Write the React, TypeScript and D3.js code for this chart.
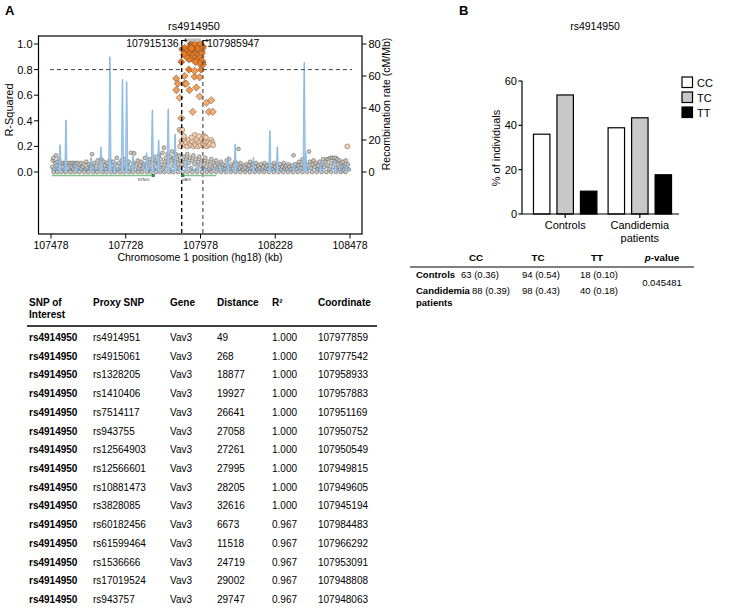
import React from 'react';
import * as d3 from 'd3';

// ---------- Panel A data ----------
const regionKb: [number, number] = [107478, 108478];
const xTicksKb = [107478, 107728, 107978, 108228, 108478];
const r2Ticks = [0, 0.2, 0.4, 0.6, 0.8, 1.0];
const recombTicks = [0, 20, 40, 60, 80];
const boundaryLeft = 107915.136;
const boundaryRight = 107985.947;
const snpName = 'rs4914950';

// recombination rate (kb, cM/Mb): narrow peaks
const recombSpikes: [number, number][] = [
  [107508, 17], [107528, 32.5], [107562, 6], [107612, 9], [107645, 15.6], [107675, 72], [107690, 7.5],
  [107717, 58], [107731, 56.5], [107752, 10], [107798, 12], [107817, 38.7], [107838, 20], [107870, 39.4],
  [107893, 23.7], [107932, 8], [107968, 6], [108045, 4.5], [108070, 9.6], [108094, 17.5], [108155, 9],
  [108210, 25.8], [108235, 15.8], [108290, 6], [108325, 68.5], [108330, 12], [108380, 6], [108430, 7], [108465, 5],
];
// low background recombination (kb, cM/Mb)
const recombBase: [number, number][] = [
  [107478, 1], [107490, 3], [107496, 0.5], [107502, 6], [107506, 1], [107520, 2], [107534, 0.5], [107548, 4],
  [107556, 1], [107570, 2], [107583, 0.5], [107594, 3], [107605, 1], [107618, 5], [107626, 0.5], [107638, 2],
  [107652, 1], [107664, 4], [107672, 1], [107686, 2], [107698, 0.5], [107712, 3], [107724, 1], [107738, 6],
  [107748, 1], [107762, 3], [107775, 0.5], [107788, 5], [107800, 1], [107812, 2], [107826, 0.5], [107846, 4],
  [107858, 1], [107878, 3], [107888, 1], [107900, 2], [107920, 1], [107940, 3], [107960, 1], [107980, 2],
  [108000, 0.5], [108012, 3], [108028, 1], [108040, 5], [108052, 1], [108062, 2], [108082, 0.5], [108100, 3],
  [108112, 1], [108128, 4], [108140, 1], [108165, 2], [108176, 0.5], [108190, 3], [108200, 1], [108222, 2],
  [108248, 0.5], [108262, 3], [108276, 1], [108300, 4], [108312, 1], [108340, 2], [108360, 0.5], [108372, 3],
  [108390, 1], [108405, 4], [108418, 1], [108432, 3], [108445, 0.5], [108458, 5], [108466, 1], [108478, 2],
];

// SNPs with low LD (kb, r2)
const lowLdSnps: [number, number][] = [
  [107482, 0.04], [107484, 0.09], [107486, 0.11], [107489, 0.02], [107492, 0.07], [107495, 0.13], [107497, 0.05],
  [107500, 0.08], [107503, 0.03], [107505, 0.1], [107508, 0.06], [107511, 0.01], [107514, 0.07], [107517, 0.04],
  [107520, 0.07], [107523, 0.02], [107526, 0.07], [107529, 0.05], [107532, 0.07], [107535, 0.03], [107538, 0.07],
  [107541, 0.01], [107544, 0.07], [107547, 0.04], [107550, 0.07], [107553, 0.02], [107556, 0.07], [107559, 0.05],
  [107562, 0.07], [107565, 0.01], [107568, 0.07], [107571, 0.03], [107574, 0.06], [107577, 0.02], [107580, 0.07],
  [107584, 0.04], [107588, 0.06], [107592, 0.02], [107596, 0.08], [107600, 0.03], [107604, 0.06], [107608, 0.02],
  [107612, 0.05], [107615, 0.14], [107618, 0.03], [107622, 0.07], [107626, 0.01], [107630, 0.05], [107634, 0.09],
  [107638, 0.02], [107642, 0.06], [107646, 0.1], [107650, 0.03], [107654, 0.08], [107658, 0.05], [107662, 0.02],
  [107666, 0.07], [107670, 0.04], [107674, 0.09], [107678, 0.01], [107682, 0.05], [107686, 0.08], [107690, 0.03],
  [107694, 0.06], [107698, 0.11], [107702, 0.02], [107706, 0.07], [107710, 0.04], [107714, 0.09], [107718, 0.02],
  [107722, 0.06], [107726, 0.1], [107730, 0.03], [107734, 0.05], [107738, 0.08], [107742, 0.01], [107746, 0.15],
  [107750, 0.04], [107754, 0.07], [107756, 0.146], [107760, 0.02], [107764, 0.06], [107768, 0.09], [107772, 0.03],
  [107776, 0.05], [107780, 0.08], [107784, 0.02], [107788, 0.06], [107792, 0.11], [107796, 0.04], [107800, 0.07],
  [107804, 0.02], [107808, 0.1], [107812, 0.05], [107816, 0.08], [107820, 0.03], [107823, 0.12], [107826, 0.06],
  [107830, 0.09], [107833, 0.02], [107836, 0.07], [107839, 0.13], [107842, 0.04], [107845, 0.1], [107848, 0.06],
  [107851, 0.15], [107854, 0.03], [107856, 0.19], [107859, 0.08], [107862, 0.11], [107865, 0.05], [107868, 0.14],
  [107871, 0.07], [107874, 0.02], [107877, 0.12], [107880, 0.09], [107883, 0.16], [107886, 0.05], [107889, 0.11],
  [107892, 0.08], [107895, 0.14], [107898, 0.03], [107901, 0.1], [107904, 0.06], [107907, 0.13], [107910, 0.09],
  [107913, 0.04], [107918, 0.08], [107922, 0.12], [107926, 0.05], [107930, 0.1], [107934, 0.14], [107938, 0.07],
  [107942, 0.11], [107946, 0.03], [107950, 0.09], [107954, 0.13], [107958, 0.06], [107962, 0.1], [107966, 0.02],
  [107970, 0.08], [107974, 0.12], [107978, 0.05], [107982, 0.09], [107986, 0.03], [107990, 0.07], [107994, 0.11],
  [107998, 0.04], [108002, 0.08], [108006, 0.02], [108010, 0.06], [108014, 0.1], [108018, 0.03], [108022, 0.07],
  [108026, 0.05], [108030, 0.09], [108034, 0.02], [108038, 0.06], [108042, 0.04], [108046, 0.08], [108050, 0.03],
  [108054, 0.06], [108058, 0.02], [108062, 0.05], [108066, 0.09], [108070, 0.04], [108074, 0.1], [108078, 0.02],
  [108082, 0.06], [108086, 0.03], [108090, 0.05], [108094, 0.08], [108098, 0.02], [108102, 0.06], [108105, 0.18],
  [108108, 0.03], [108112, 0.07], [108116, 0.04], [108120, 0.02], [108124, 0.05], [108128, 0.03], [108132, 0.06],
  [108136, 0.02], [108140, 0.05], [108144, 0.08], [108148, 0.03], [108152, 0.06], [108156, 0.02], [108160, 0.04],
  [108164, 0.07], [108168, 0.02], [108172, 0.05], [108176, 0.03], [108180, 0.06], [108184, 0.02], [108188, 0.04],
  [108192, 0.07], [108196, 0.03], [108200, 0.05], [108204, 0.02], [108208, 0.06], [108212, 0.03], [108216, 0.05],
  [108220, 0.02], [108224, 0.07], [108228, 0.04], [108232, 0.02], [108236, 0.05], [108240, 0.03], [108244, 0.06],
  [108248, 0.02], [108252, 0.04], [108256, 0.07], [108260, 0.03], [108264, 0.05], [108268, 0.02], [108272, 0.06],
  [108276, 0.04], [108280, 0.02], [108284, 0.05], [108289, 0.13], [108292, 0.03], [108296, 0.06], [108300, 0.02],
  [108304, 0.05], [108308, 0.08], [108312, 0.03], [108316, 0.06], [108320, 0.1], [108324, 0.04], [108328, 0.07],
  [108332, 0.02], [108336, 0.05], [108341, 0.16], [108344, 0.08], [108348, 0.03], [108352, 0.06], [108356, 0.09],
  [108360, 0.04], [108364, 0.07], [108368, 0.02], [108372, 0.05], [108376, 0.08], [108380, 0.03], [108384, 0.06],
  [108388, 0.1], [108392, 0.04], [108396, 0.08], [108400, 0.1], [108403, 0.05], [108406, 0.1], [108409, 0.02],
  [108412, 0.11], [108415, 0.07], [108418, 0.11], [108421, 0.04], [108424, 0.11], [108427, 0.08], [108430, 0.11],
  [108433, 0.03], [108436, 0.1], [108439, 0.06], [108442, 0.09], [108445, 0.02], [108448, 0.07], [108451, 0.04],
  [108454, 0.08], [108457, 0.01], [108460, 0.05], [108464, 0.09], [108467, 0.03], [108471, 0.06], [108474, 0.02],
  [107487, 0], [107499, 0], [107513, 0], [107527, 0], [107543, 0], [107557, 0], [107573, 0], [107589, 0],
  [107603, 0], [107619, 0], [107633, 0], [107649, 0], [107663, 0], [107679, 0], [107693, 0], [107709, 0],
  [107723, 0], [107739, 0], [107753, 0], [107769, 0], [107783, 0], [107799, 0], [107813, 0], [107829, 0],
  [107843, 0], [107857, 0], [107873, 0], [107887, 0], [107903, 0], [107919, 0], [107935, 0], [107951, 0],
  [107967, 0], [107983, 0], [107999, 0], [108015, 0], [108031, 0], [108047, 0], [108063, 0], [108079, 0],
  [108095, 0], [108111, 0], [108127, 0], [108143, 0], [108159, 0], [108175, 0], [108191, 0], [108207, 0],
  [108223, 0], [108239, 0], [108255, 0], [108271, 0], [108287, 0], [108303, 0], [108319, 0], [108335, 0],
  [108351, 0], [108367, 0], [108383, 0], [108399, 0], [108415, 0], [108431, 0], [108447, 0], [108463, 0],
];

// SNPs with 0.2 <= r2 < 0.4 (kb, r2)
const weakLdSnps: [number, number][] = [
  [107908, 0.33], [107913, 0.32], [107917, 0.33], [107959, 0.29], [107990, 0.28], [108014, 0.25], [108018, 0.23],
  [107914, 0.24], [107918, 0.22], [107922, 0.26], [107926, 0.21], [107930, 0.23], [107934, 0.2], [107938, 0.25],
  [107942, 0.22], [107946, 0.21], [107950, 0.24], [107954, 0.2], [107958, 0.22], [107962, 0.21], [107966, 0.25],
  [107970, 0.2], [107974, 0.23], [107978, 0.21], [107982, 0.26], [107986, 0.22], [107990, 0.21], [107994, 0.24],
  [107998, 0.2], [108002, 0.23], [108006, 0.21], [108010, 0.22], [108020, 0.21], [107910, 0.2], [107923, 0.28],
  [107948, 0.27], [107972, 0.28], [107996, 0.27], [108469, 0.2],
];

// SNPs with r2 >= 0.4 (kb, r2)
const strongLdSnps: [number, number][] = [
  [107897, 0.73], [107924.7, 0.75], [107958, 0.745], [107975, 0.74], [107902, 0.69], [107925, 0.69], [107930, 0.69],
  [107897, 0.64], [107941, 0.64], [107964, 0.66], [107908, 0.58], [107975, 0.59], [107997, 0.54], [108014, 0.56],
  [108006, 0.47], [108019, 0.47], [107952, 0.47], [107914, 0.42],
  [107913.7, 0.86], [107939, 0.8], [107958, 0.79], [107980, 0.8],
  [107917, 0.96], [107921, 0.95], [107925, 0.97], [107929, 0.93], [107933, 0.96], [107936, 0.91], [107939, 0.95],
  [107942, 0.93], [107944, 0.97], [107947, 0.89], [107952, 0.94], [107955, 0.92], [107956, 0.97], [107960, 0.95],
  [107962, 0.9], [107964, 0.93], [107967, 0.97], [107969, 0.88], [107971, 0.95], [107973, 0.92], [107975, 0.97],
  [107979, 0.9], [107981, 0.95], [107983, 0.93], [107985, 0.86], [107986, 0.98], [107986, 0.84], [107982, 0.87],
  [107974, 0.85], [107961, 0.86], [107940, 0.88], [107931, 0.9], [107923, 0.92], [107958, 0.99], [107970, 0.99],
  [107980, 0.99],
  [107945.194, 1], [107949.605, 1], [107949.815, 1], [107950.549, 1], [107950.752, 1], [107951.169, 1],
  [107957.883, 1], [107958.933, 1], [107977.542, 1], [107977.859, 1], [107984.483, 0.967], [107966.292, 0.967],
  [107953.091, 0.967], [107948.808, 0.967], [107948.063, 0.967],
];

const geneNames = ['NTNG1', 'VAV3'];
const geneStarts = [107481, 107914];
const geneEnds = [107825, 108031];

// ---------- Table A data ----------
const tableHeaders = ['SNP of|Interest', 'Proxy SNP', 'Gene', 'Distance', 'R²', 'Coordinate'];
const proxySnps = ['rs4914951', 'rs4915061', 'rs1328205', 'rs1410406', 'rs7514117', 'rs943755', 'rs12564903',
  'rs12566601', 'rs10881473', 'rs3828085', 'rs60182456', 'rs61599464', 'rs1536666', 'rs17019524', 'rs943757'];
const proxyGene = 'Vav3';
const distances = [49, 268, 18877, 19927, 26641, 27058, 27261, 27995, 28205, 32616, 6673, 11518, 24719, 29002, 29747];
const proxyR2 = ['1.000', '1.000', '1.000', '1.000', '1.000', '1.000', '1.000', '1.000', '1.000', '1.000',
  '0.967', '0.967', '0.967', '0.967', '0.967'];
const coordinates = [107977859, 107977542, 107958933, 107957883, 107951169, 107950752, 107950549, 107949815,
  107949605, 107945194, 107984483, 107966292, 107953091, 107948808, 107948063];

// ---------- Panel B data ----------
const genotypes = ['CC', 'TC', 'TT'];
const groupKeys = ['Controls', 'Candidemia patients'];
const controlsPct = [36.0, 53.7, 10.3];
const patientsPct = [38.9, 43.4, 17.7];
const pctTicks = [0, 20, 40, 60];
const controlsCounts = ['63 (0.36)', '94 (0.54)', '18 (0.10)'];
const patientsCounts = ['88 (0.39)', '98 (0.43)', '40 (0.18)'];
const pValue = '0.045481';

const FONT = "'Liberation Sans', Arial, Helvetica, sans-serif";

export default function App() {
  // ----- Panel A scales -----
  const x = d3.scaleLinear().domain(regionKb).range([51, 350]);
  const yR2 = d3.scaleLinear().domain([0, 1]).range([172, 44]);
  const yRec = d3.scaleLinear().domain([0, 80]).range([172, 44]);
  const ldColor = d3.scaleThreshold<number, string>()
    .domain([0.2, 0.4, 0.6, 0.8])
    .range(['#cfc9c3', '#f8cfae', '#f6ae76', '#f39b50', '#ee7d22']);
  const frame = { l: 38.5, t: 36, r: 362, b: 234 };
  const baseLine = d3.line<[number, number]>().x(d => x(d[0])).y(d => yRec(d[1]));
  const xl = x(boundaryLeft);
  const xr = x(boundaryRight);
  const diamond = (cx: number, cy: number, s: number) =>
    `M${cx},${cy - s}L${cx + s},${cy}L${cx},${cy + s}L${cx - s},${cy}Z`;

  // ----- Panel B scales -----
  const bPct = [controlsPct, patientsPct];
  const x0 = d3.scaleBand().domain(groupKeys).range([526, 679]).paddingInner(0.15).paddingOuter(0.1);
  const x1 = d3.scaleBand().domain(genotypes).range([0, x0.bandwidth()]).paddingInner(0.3).paddingOuter(0);
  const yB = d3.scaleLinear().domain([0, 60]).range([214, 81]);
  const genoFill = d3.scaleOrdinal<string, string>().domain(genotypes).range(['#ffffff', '#c8c8c8', '#000000']);

  // table A layout
  const colX = [29, 93, 170, 217, 272, 318];
  const rowY = d3.scaleLinear().domain([0, proxySnps.length - 1]).range([341, 603]);

  // table B layout
  const ctrlValX = [461, 522, 580];
  const patValX = [472, 522, 580];
  const bHeadX = [476, 538, 597, 662];

  return (
    <svg width={754} height={610} style={{ position: 'absolute', left: 0, top: 0, background: '#fff' }}
      fontFamily={FONT}>
      <rect width={754} height={610} fill="#fff" />
      {/* Panel labels */}
      <text x={5} y={15} fontSize={13} fontWeight="bold">A</text>
      <text x={459} y={15} fontSize={13} fontWeight="bold">B</text>

      {/* ===== Panel A plot ===== */}
      <text x={194} y={30} fontSize={11} textAnchor="middle">{snpName}</text>

      {/* low LD points */}
      {lowLdSnps.map((d, i) => (
        <circle key={'g' + i} cx={x(d[0])} cy={yR2(d[1])} r={1.9} fill={ldColor(d[1])} stroke="#5a5450" strokeWidth={0.55} />
      ))}

      {/* recombination rate */}
      <path d={baseLine(recombBase) || ''} fill="none" stroke="#6fa8dc" strokeWidth={0.9} />
      {recombSpikes.map((d, i) => {
        const cx = x(d[0]);
        const y0 = yRec(0);
        const y1 = yRec(d[1]);
        return (
          <path key={'s' + i} d={`M${cx - 1.2},${y0}L${cx - 0.3},${y1}L${cx + 0.3},${y1}L${cx + 1.2},${y0}`}
            fill="#a9cdea" stroke="#74acdc" strokeWidth={0.7} />
        );
      })}

      {/* weak LD */}
      {weakLdSnps.map((d, i) => (
        <circle key={'w' + i} cx={x(d[0])} cy={yR2(d[1])} r={2.5} fill={ldColor(d[1])} stroke="#7d6655" strokeWidth={0.55} />
      ))}
      {/* strong LD */}
      {strongLdSnps.map((d, i) => (
        <path key={'o' + i} d={diamond(x(d[0]), yR2(d[1]), 3.6)} fill={ldColor(d[1])} stroke="#6b4a30" strokeWidth={0.55} />
      ))}

      {/* r2 = 0.8 threshold */}
      <line x1={50} x2={xl} y1={yR2(0.8)} y2={yR2(0.8)} stroke="#444" strokeWidth={1} strokeDasharray="4,3" />
      <line x1={xr} x2={352} y1={yR2(0.8)} y2={yR2(0.8)} stroke="#444" strokeWidth={1} strokeDasharray="4,3" />

      {/* boundaries */}
      <line x1={xl} x2={xl} y1={40} y2={frame.b} stroke="#000" strokeWidth={1.3} strokeDasharray="4,3" />
      <line x1={xr} x2={xr} y1={40} y2={frame.b} stroke="#555" strokeWidth={1.2} strokeDasharray="4,3" />
      <rect x={xl + 2} y={38.5} width={xr - xl - 4} height={3} fill="#bdbdbd" />
      <path d={`M${xl},46V40.5H${xl + 3.5}`} fill="none" stroke="#000" strokeWidth={1} />
      <path d={`M${xl + 3.5},38.5L${xl + 5.5},40.5L${xl + 3.5},42.5Z`} fill="#000" />
      <path d={`M${xr},46V40.5H${xr + 3.5}`} fill="none" stroke="#000" strokeWidth={1} />
      <path d={`M${xr + 3.5},38.5L${xr + 5.5},40.5L${xr + 3.5},42.5Z`} fill="#000" />
      <text x={xl - 3} y={47} fontSize={10.5} textAnchor="end">{Math.round(boundaryLeft * 1000)}</text>
      <text x={xr + 4} y={47} fontSize={10.5}>{Math.round(boundaryRight * 1000)}</text>

      {/* genes */}
      {geneNames.map((g, i) => (
        <g key={g}>
          <line x1={x(geneStarts[i])} x2={x(geneEnds[i])} y1={175.5} y2={175.5} stroke="#7fbf8a" strokeWidth={1.3} />
          <rect x={i === 0 ? x(geneEnds[i]) - 3 : x(geneStarts[i])} y={174} width={3} height={3} fill="#2e8b3e" />
          <text x={i === 0 ? x(geneEnds[i]) - 5 : x(geneStarts[i]) + 1} y={180.5} fontSize={3.5}
            textAnchor={i === 0 ? 'end' : 'start'} fill="#333">{g}</text>
        </g>
      ))}

      {/* frame */}
      <rect x={frame.l} y={frame.t} width={frame.r - frame.l} height={frame.b - frame.t} fill="none" stroke="#000" strokeWidth={1.2} />

      {/* left axis */}
      {r2Ticks.map(t => (
        <g key={'lt' + t}>
          <line x1={frame.l - 4.5} x2={frame.l} y1={yR2(t)} y2={yR2(t)} stroke="#000" strokeWidth={1} />
          <text x={frame.l - 6} y={yR2(t) + 4} fontSize={11} textAnchor="end">{d3.format('.1f')(t)}</text>
        </g>
      ))}
      <text transform={`translate(13,110) rotate(-90)`} fontSize={11} textAnchor="middle">R-Squared</text>

      {/* right axis */}
      {recombTicks.map(t => (
        <g key={'rt' + t}>
          <line x1={frame.r} x2={frame.r + 4.5} y1={yRec(t)} y2={yRec(t)} stroke="#000" strokeWidth={1} />
          <text x={frame.r + 6.5} y={yRec(t) + 4} fontSize={11}>{t}</text>
        </g>
      ))}
      <text transform={`translate(390,104) rotate(-90)`} fontSize={10.5} textAnchor="middle">Recombination rate (cM/Mb)</text>

      {/* bottom axis */}
      {xTicksKb.map(t => (
        <g key={'bt' + t}>
          <line x1={x(t)} x2={x(t)} y1={frame.b} y2={frame.b + 4.5} stroke="#000" strokeWidth={1} />
          <text x={x(t)} y={frame.b + 15} fontSize={10.5} textAnchor="middle">{t}</text>
        </g>
      ))}
      <text x={200} y={frame.b + 27} fontSize={10.5} textAnchor="middle">Chromosome 1 position (hg18) (kb)</text>

      {/* ===== Table A ===== */}
      {tableHeaders.map((h, i) => (
        <text key={'h' + i} x={colX[i]} y={306} fontSize={10} fontWeight="bold">
          {h.split('|').map((part, j) => (
            <tspan key={j} x={colX[i]} dy={j === 0 ? 0 : 12}>{part}</tspan>
          ))}
        </text>
      ))}
      <line x1={27} x2={377} y1={326} y2={326} stroke="#000" strokeWidth={1.6} />
      {proxySnps.map((p, i) => (
        <g key={'r' + i} fontSize={10}>
          <text x={colX[0]} y={rowY(i)} fontWeight="bold">{snpName}</text>
          <text x={colX[1]} y={rowY(i)}>{p}</text>
          <text x={colX[2]} y={rowY(i)}>{proxyGene}</text>
          <text x={colX[3]} y={rowY(i)}>{distances[i]}</text>
          <text x={colX[4]} y={rowY(i)}>{proxyR2[i]}</text>
          <text x={colX[5]} y={rowY(i)}>{coordinates[i]}</text>
        </g>
      ))}

      {/* ===== Panel B chart ===== */}
      <text x={595} y={30} fontSize={10.5} textAnchor="middle">{snpName}</text>
      {groupKeys.map((g, gi) => (
        <g key={g}>
          {genotypes.map((gt, k) => (
            <rect key={gt} x={(x0(g) || 0) + (x1(gt) || 0)} y={yB(bPct[gi][k])} width={x1.bandwidth()}
              height={yB(0) - yB(bPct[gi][k])} fill={genoFill(gt)} stroke="#000" strokeWidth={1.2} />
          ))}
        </g>
      ))}
      <line x1={522} x2={522} y1={yB(60)} y2={yB(0)} stroke="#000" strokeWidth={1.2} />
      <line x1={522} x2={679} y1={yB(0)} y2={yB(0)} stroke="#000" strokeWidth={1.2} />
      {pctTicks.map(t => (
        <g key={'pt' + t}>
          <line x1={518.5} x2={522} y1={yB(t)} y2={yB(t)} stroke="#000" strokeWidth={1.2} />
          <text x={517} y={yB(t) + 4} fontSize={11} textAnchor="end">{t}</text>
        </g>
      ))}
      {groupKeys.map(g => {
        const cx = (x0(g) || 0) + x0.bandwidth() / 2;
        const words = g === 'Controls' ? ['Controls'] : ['Candidemia', 'patients'];
        return (
          <g key={'xl' + g}>
            <line x1={cx} x2={cx} y1={yB(0)} y2={yB(0) + 4} stroke="#000" strokeWidth={1.2} />
            {words.map((w, j) => (
              <text key={w} x={cx} y={229 + j * 13} fontSize={11} textAnchor="middle">{w}</text>
            ))}
          </g>
        );
      })}
      <text transform={`translate(500,148) rotate(-90)`} fontSize={11} textAnchor="middle">% of individuals</text>
      {genotypes.map((gt, k) => (
        <g key={'lg' + gt}>
          <rect x={682} y={77 + k * 15} width={10.5} height={10.5} fill={genoFill(gt)} stroke="#000" strokeWidth={1.2} />
          <text x={697} y={86.5 + k * 15} fontSize={11}>{gt}</text>
        </g>
      ))}

      {/* ===== Table B ===== */}
      {genotypes.map((gt, k) => (
        <text key={'bh' + gt} x={bHeadX[k]} y={261} fontSize={9.8} fontWeight="bold" textAnchor="middle">{gt}</text>
      ))}
      <text x={bHeadX[3]} y={261} fontSize={9.8} fontWeight="bold" textAnchor="middle">
        <tspan fontStyle="italic">p</tspan>-value
      </text>
      <line x1={410} x2={694} y1={267} y2={267} stroke="#000" strokeWidth={1.2} />
      <text x={416} y={278} fontSize={9.5} fontWeight="bold">Controls</text>
      <text x={416} y={294} fontSize={9.5} fontWeight="bold">Candidemia</text>
      <text x={416} y={306} fontSize={9.5} fontWeight="bold">patients</text>
      {controlsCounts.map((c, k) => (
        <text key={'cc' + k} x={ctrlValX[k]} y={278} fontSize={9.5}>{c}</text>
      ))}
      {patientsCounts.map((c, k) => (
        <text key={'pc' + k} x={patValX[k]} y={294} fontSize={9.5}>{c}</text>
      ))}
      <text x={bHeadX[3]} y={286} fontSize={9.5} textAnchor="middle">{pValue}</text>
    </svg>
  );
}
